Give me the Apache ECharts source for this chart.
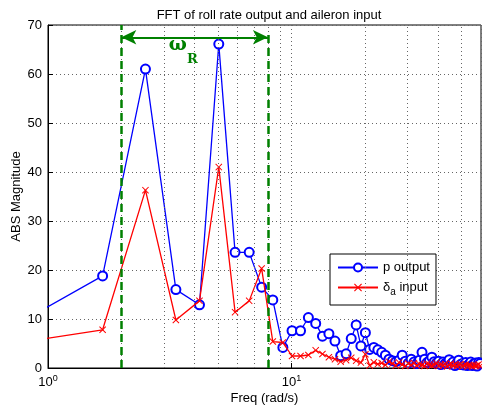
<!DOCTYPE html>
<html>
<head>
<meta charset="utf-8">
<script src="https://cdn.jsdelivr.net/npm/echarts@6/dist/echarts.min.js"></script>
<style>
html,body{margin:0;padding:0;background:#fff;}
#chart{width:482px;height:413px;}
</style>
</head>
<body>
<div id="chart"></div>
<script>
// Frequencies (rad/s)
const freq = [0.838, 1.676, 2.513, 3.351, 4.189, 5.027, 5.864, 6.702, 7.540, 8.378,
  9.215, 10.05, 10.89, 11.73, 12.57, 13.40, 14.24, 15.08, 15.92, 16.76,
  17.59, 18.43, 19.27, 20.11, 20.94, 21.78, 22.62, 23.46, 24.29, 25.13,
  25.97, 26.81, 27.65, 28.48, 29.32, 30.16, 31.00, 31.83, 32.67, 33.51,
  34.35, 35.19, 36.02, 36.86, 37.70, 38.54, 39.37, 40.21, 41.05, 41.89,
  42.73, 43.56, 44.40, 45.24, 46.08, 46.91, 47.75, 48.59, 49.43, 50.27,
  51.10, 51.94, 52.78, 53.62, 54.45, 55.29, 56.13, 56.97, 57.81, 58.64, 59.48];
// p output magnitude
const pOutput = [10.35, 18.8, 61.0, 16.0, 12.9, 66.1, 23.6, 23.6, 16.5, 13.9,
  4.2, 7.6, 7.6, 10.3, 9.1, 6.5, 7.0, 5.5, 2.5, 2.9,
  6.0, 8.8, 4.5, 7.2, 3.8, 4.2, 3.7, 3.2, 2.6, 1.8,
  1.5, 1.3, 1.6, 2.6, 1.4, 1.0, 1.8, 1.2, 0.9, 1.6,
  3.2, 1.8, 1.1, 1.5, 2.2, 1.3, 1.0, 1.4, 0.7, 1.2,
  0.9, 1.0, 1.7, 0.8, 1.2, 0.5, 1.0, 1.6, 0.7, 0.9,
  0.6, 1.1, 0.5, 0.8, 1.2, 0.5, 0.9, 1.0, 0.4, 1.1, 0.9];
// delta_a input magnitude
const deltaAInput = [5.5, 7.8, 36.3, 9.8, 13.7, 41.0, 11.4, 13.7, 20.3, 5.4,
  5.2, 2.45, 2.45, 2.65, 3.6, 2.85, 2.2, 1.8, 1.3, 1.6,
  2.1, 1.5, 1.1, 2.8, 0.5, 1.15, 0.8, 1.0, 0.6, 1.3,
  0.9, 0.5, 1.1, 0.7, 0.4, 0.9, 0.6, 1.0, 0.5, 0.8,
  0.6, 0.4, 0.9, 0.7, 0.5, 0.6, 1.0, 0.4, 0.7, 0.5,
  0.8, 0.3, 0.6, 0.9, 0.5, 0.7, 0.4, 0.6, 0.8, 0.3,
  0.5, 0.7, 0.4, 0.6, 0.5, 0.3, 0.6, 0.4, 0.5, 0.7, 0.4];
// Bandwidth annotation (rad/s)
const bandLow = 2, bandHigh = 8;
const minorGridX = [2, 3, 4, 5, 6, 7, 8, 9, 20, 30, 40, 50];

const FONT = 'Liberation Sans, Arial, Helvetica, sans-serif';
const GREEN = '#008000';
const pts = (ys) => freq.map((f, i) => [f, ys[i]]);
const crossPath = 'path://M0,1 L1,0 L5,4 L9,0 L10,1 L6,5 L10,9 L9,10 L5,6 L1,10 L0,9 L4,5 Z';

const chart = echarts.init(document.getElementById('chart'), null, {renderer: 'canvas'});
chart.setOption({
  animation: false,
  backgroundColor: '#fff',
  title: {
    text: 'FFT of roll rate output and aileron input',
    left: 264, top: 4, textAlign: 'center',
    textStyle: {fontFamily: FONT, fontSize: 13, fontWeight: 'normal', color: '#000'}
  },
  grid: {left: 48, right: 1, top: 25, bottom: 45, containLabel: false, outerBoundsMode: 'none',
    show: true, borderColor: '#000', borderWidth: 1, backgroundColor: 'transparent'},
  legend: {
    orient: 'vertical', left: 330, top: 254, width: 100,
    data: ['p output', 'δa input'],
    backgroundColor: '#fff', borderColor: '#000', borderWidth: 1,
    padding: [7, 6, 8, 7], itemGap: 7, itemWidth: 40, itemHeight: 10,
    textStyle: {fontFamily: FONT, fontSize: 13, color: '#000',
      rich: {
        n: {fontFamily: FONT, fontSize: 13, color: '#000'},
        s: {fontFamily: FONT, fontSize: 10, color: '#000', padding: [9, 0, 0, 0]}
      }},
    formatter: (name) => name === 'δa input' ? '{n|δ}{s|a}{n| input}' : '{n|' + name + '}'
  },
  xAxis: {
    type: 'log', logBase: 10, min: 1, max: 60,
    name: 'Freq (rad/s)', nameLocation: 'middle', nameGap: 24, nameMoveOverlap: false,
    nameTextStyle: {fontFamily: FONT, fontSize: 13, color: '#000'},
    axisLine: {show: true, lineStyle: {color: '#000', width: 1}},
    axisTick: {show: true, inside: true, length: 5, lineStyle: {color: '#000'}},
    splitLine: {show: true, lineStyle: {color: '#666', type: [1, 3], width: 1}},
    axisLabel: {
      color: '#000', fontFamily: FONT, fontSize: 13, margin: 6, showMaxLabel: false,
      formatter: (v) => {
        if (Math.abs(v - 1) < 1e-6) return '10{sup|0}';
        if (Math.abs(v - 10) < 1e-6) return '10{sup|1}';
        return '';
      },
      rich: {sup: {fontFamily: FONT, fontSize: 9, color: '#000', padding: [0, 0, 8, 0]}}
    }
  },
  yAxis: {
    type: 'value', min: 0, max: 70, interval: 10,
    name: 'ABS Magnitude', nameLocation: 'middle', nameGap: 25, nameMoveOverlap: false,
    nameTextStyle: {fontFamily: FONT, fontSize: 13, color: '#000'},
    axisLine: {show: true, lineStyle: {color: '#000', width: 1}},
    axisTick: {show: true, inside: true, length: 5, lineStyle: {color: '#000'}},
    splitLine: {show: true, lineStyle: {color: '#666', type: [1, 3], width: 1}},
    axisLabel: {color: '#000', fontFamily: FONT, fontSize: 13, margin: 6}
  },
  series: [
    {
      name: 'grid-minor', type: 'line', data: [], silent: true,
      markLine: {
        silent: true, symbol: 'none', animation: false,
        label: {show: false},
        lineStyle: {color: '#666', type: [1, 3], width: 1},
        data: minorGridX.map(v => ({xAxis: v}))
      }
    },
    {
      name: 'p output', type: 'line', data: pts(pOutput), clip: true,
      symbol: 'emptyCircle', symbolSize: 9, showAllSymbol: true,
      lineStyle: {color: '#0000ff', width: 1.3},
      itemStyle: {color: '#0000ff', borderColor: '#0000ff', borderWidth: 1.3},
      z: 3
    },
    {
      name: 'δa input', type: 'line', data: pts(deltaAInput), clip: true,
      symbol: crossPath, symbolSize: 7, showAllSymbol: true,
      lineStyle: {color: '#ff0000', width: 1.3},
      itemStyle: {color: '#ff0000'},
      z: 4
    },
    {
      name: 'annot', type: 'line', data: [], silent: true, z: 5,
      markLine: {
        silent: true, animation: false, label: {show: false},
        data: [
          [{coord: [bandLow, 0], symbol: 'none', lineStyle: {color: GREEN, width: 2.5, type: [8, 5]}},
           {coord: [bandLow, 70], symbol: 'none'}],
          [{coord: [bandHigh, 0], symbol: 'none', lineStyle: {color: GREEN, width: 2.5, type: [8, 5]}},
           {coord: [bandHigh, 68.5], symbol: 'none'}],
          [{coord: [bandLow, 67.5], symbol: 'arrow', symbolSize: [11, 15], lineStyle: {color: GREEN, width: 2.2, type: 'solid'}},
           {coord: [bandHigh, 67.5], symbol: 'arrow', symbolSize: [11, 15]}]
        ]
      },
      markPoint: {
        silent: true, animation: false, symbol: 'circle', symbolSize: 0,
        data: [
          {coord: [3.41, 65.9], label: {show: true, position: 'inside', formatter: 'ω', color: GREEN, fontFamily: 'DejaVu Serif', fontWeight: 'bold', fontSize: 19}},
          {coord: [3.92, 62.9], label: {show: true, position: 'inside', formatter: 'R', color: GREEN, fontFamily: 'DejaVu Serif', fontWeight: 'bold', fontSize: 13}}
        ]
      }
    }
  ]
});
</script>
</body>
</html>
